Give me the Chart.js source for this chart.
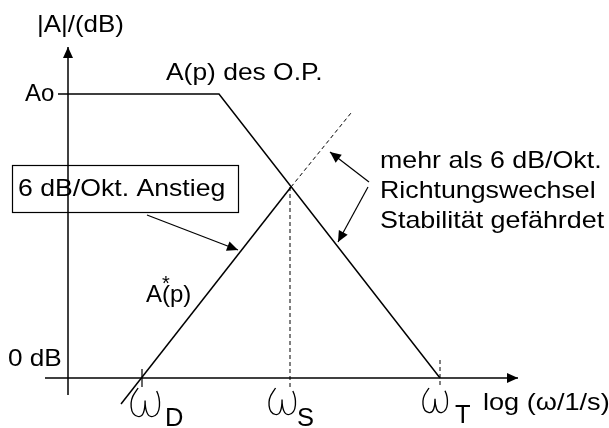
<!DOCTYPE html>
<html>
<head>
<meta charset="utf-8">
<script src="https://cdn.jsdelivr.net/npm/chart.js@4/dist/chart.umd.min.js"></script>
<style>
  html, body { margin: 0; padding: 0; background: #fff; }
  canvas { display: block; }
</style>
</head>
<body>
<canvas id="bode" width="609" height="428"></canvas>
<script>
// Amplitudengang des O.P.: waagrecht bei Ao, dann Abfall bis omega_T
var opX = [-1.0, 15.1, 37.2];
var opY = [28.4, 28.4, 0];
// A*(p): Anstieg, durchgezogen bis zum Schnittpunkt, dann gestrichelt
var astX = [5.3, 22.3];
var astY = [-2.6, 19.1];
var astDashX = [22.3, 28.3];
var astDashY = [19.1, 26.5];
// Frequenzmarken auf der log-Achse
var omegaNames = ['D', 'S', 'T'];
var omegaX = [7.4, 22.2, 37.2];

function pts(xs, ys) {
    var out = [];
    for (var i = 0; i < xs.length; i++) {
        out.push({x: xs[i], y: ys[i]});
    }
    return out;
}

function line(data, width, dash, arrow) {
    return {
        data: data,
        showLine: true,
        borderColor: '#000',
        borderWidth: width,
        borderDash: dash || [],
        pointRadius: 0,
        fill: false,
        clip: false,
        arrow: !!arrow
    };
}

var FONT = '"Liberation Sans", Arial, sans-serif';

// text slightly stretched sideways, like the original drawing
function text(ctx, str, x, y, size, sx) {
    ctx.save();
    ctx.translate(x, y);
    ctx.scale(sx || 1.1, 1);
    ctx.font = size + 'px ' + FONT;
    ctx.fillStyle = '#000';
    ctx.textBaseline = 'alphabetic';
    ctx.fillText(str, 0, 0);
    ctx.restore();
}

// hand drawn omega, (x, y) = top left corner
function omega(ctx, x, y, h) {
    var k = h / 28;
    ctx.save();
    ctx.translate(x, y);
    ctx.scale(k * 1.12, k);
    ctx.beginPath();
    ctx.moveTo(7, 0);
    ctx.lineTo(4, 5);
    ctx.bezierCurveTo(-0.5, 12, -0.5, 26, 7, 27.5);
    ctx.bezierCurveTo(11.5, 28.5, 13, 21, 13, 12);
    ctx.bezierCurveTo(13, 21, 15, 28.5, 19.5, 27.5);
    ctx.bezierCurveTo(27, 26, 26.5, 11, 23, 3);
    ctx.lineWidth = 1.2 / k;
    ctx.strokeStyle = '#000';
    ctx.stroke();
    ctx.restore();
}

function arrowHead(ctx, x1, y1, x2, y2, len, half) {
    var a = Math.atan2(y2 - y1, x2 - x1);
    ctx.save();
    ctx.translate(x2, y2);
    ctx.rotate(a);
    ctx.beginPath();
    ctx.moveTo(0, 0);
    ctx.lineTo(-len, -half);
    ctx.lineTo(-len, half);
    ctx.closePath();
    ctx.fillStyle = '#000';
    ctx.fill();
    ctx.restore();
}

var decorations = {
    id: 'decorations',
    afterDatasetsDraw: function (chart) {
        var ctx = chart.ctx;
        var xs = chart.scales.x, ys = chart.scales.y;

        chart.data.datasets.forEach(function (ds) {
            if (!ds.arrow) return;
            var n = ds.data.length;
            var p = ds.data[n - 2], q = ds.data[n - 1];
            arrowHead(ctx, xs.getPixelForValue(p.x), ys.getPixelForValue(p.y),
                xs.getPixelForValue(q.x), ys.getPixelForValue(q.y), 11, 5);
        });

        // box for the slope label
        ctx.save();
        ctx.strokeStyle = '#000';
        ctx.lineWidth = 1.2;
        ctx.strokeRect(12.5, 165.5, 226, 47);
        ctx.restore();

        text(ctx, '|A|/(dB)', 37, 32, 24, 1.08);
        text(ctx, 'Ao', 25, 101, 24, 1.0);
        text(ctx, 'A(p) des O.P.', 166, 80, 24, 1.1);
        text(ctx, '0 dB', 8, 366, 24, 1.09);
        text(ctx, '6 dB/Okt. Anstieg', 18, 196, 24, 1.11);
        text(ctx, 'A(p)', 146, 302, 24, 1.0);
        text(ctx, '*', 162, 290, 20, 1.0);
        text(ctx, 'mehr als 6 dB/Okt.', 380, 168, 24, 1.115);
        text(ctx, 'Richtungswechsel', 380, 198, 24, 1.115);
        text(ctx, 'Stabilität gefährdet', 380, 228, 24, 1.12);

        // omega marks below the axis
        var omegaShift = [-12, -22, -18];
        var omegaH = [29, 27, 25];
        var subX = [165, 297, 455];
        var subY = [426, 426, 423];
        for (var i = 0; i < omegaNames.length; i++) {
            var px = xs.getPixelForValue(omegaX[i]) + omegaShift[i];
            omega(ctx, px, 388, omegaH[i]);
            text(ctx, omegaNames[i], subX[i], subY[i], 25, 1.02);
        }
        text(ctx, 'log (ω/1/s)', 483, 410, 24, 1.13);
    }
};

new Chart(document.getElementById('bode'), {
    type: 'scatter',
    data: {
        datasets: [
            line([{x: -2.3, y: 0}, {x: 45.0, y: 0}], 1.5, null, true),
            line([{x: 0, y: -1.7}, {x: 0, y: 33.1}], 1.5, null, true),
            line(pts(opX, opY), 1.5),
            line(pts(astX, astY), 1.5),
            line(pts(astDashX, astDashY), 1, [4, 3]),
            line([{x: omegaX[1], y: astY[1]}, {x: omegaX[1], y: -1.1}], 1, [4, 3]),
            line([{x: omegaX[2], y: 1.8}, {x: omegaX[2], y: -0.9}], 1, [4, 3]),
            line([{x: omegaX[0], y: 0.9}, {x: omegaX[0], y: -0.9}], 1.2),
            line([{x: 7.9, y: 16.3}, {x: 17.0, y: 12.8}], 1.2, null, true),
            line([{x: 30.1, y: 19.6}, {x: 26.2, y: 22.6}], 1.2, null, true),
            line([{x: 30.0, y: 19.1}, {x: 27.0, y: 13.6}], 1.2, null, true)
        ]
    },
    options: {
        responsive: false,
        animation: false,
        devicePixelRatio: 1,
        layout: {padding: 0},
        plugins: {legend: {display: false}, tooltip: {enabled: false}},
        scales: {
            x: {type: 'linear', display: false, min: -6.8, max: 54.1},
            y: {type: 'linear', display: false, min: -5.0, max: 37.8}
        }
    },
    plugins: [decorations]
});
</script>
</body>
</html>
